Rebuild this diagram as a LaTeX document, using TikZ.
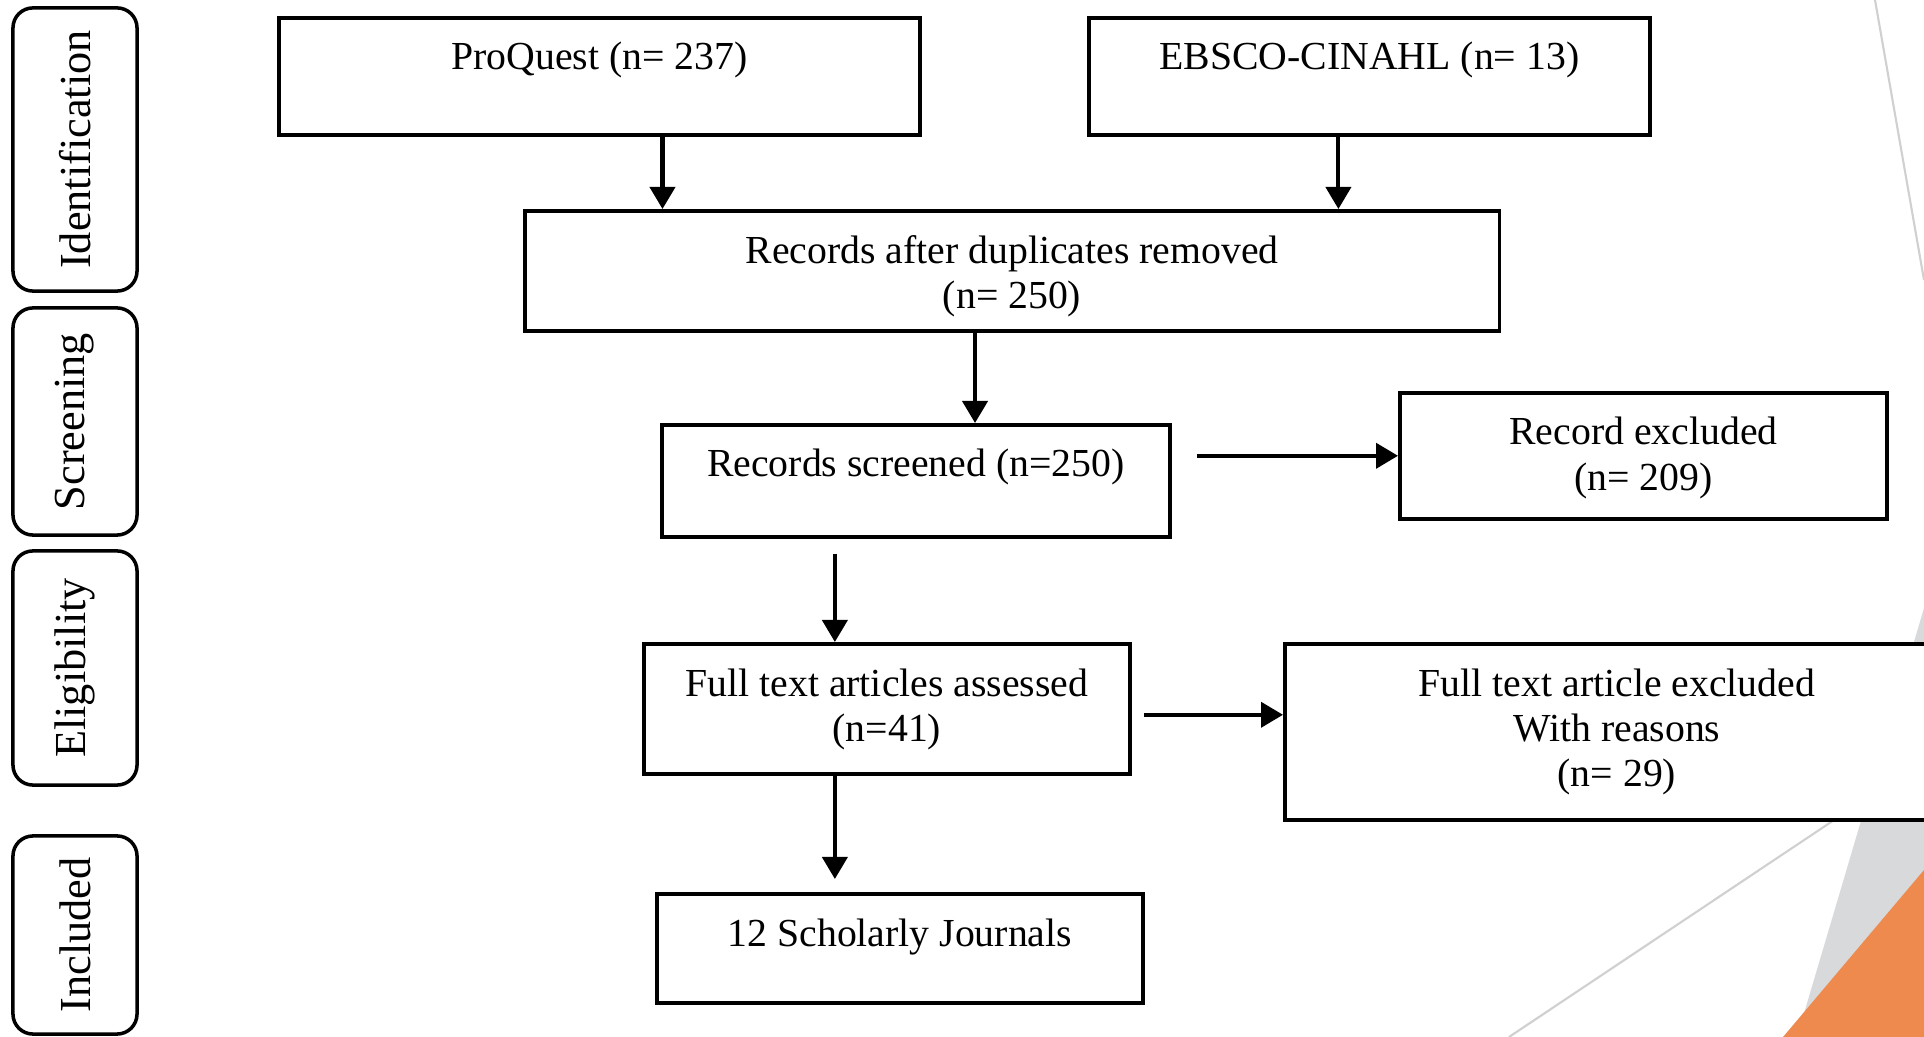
\documentclass[tikz,border=0pt]{standalone}
\usepackage{fontspec}
\setmainfont{Liberation Serif}
\usetikzlibrary{arrows.meta}

\definecolor{deckgray}{HTML}{D8D9DB}
\definecolor{deckorange}{HTML}{EF8A4E}
\definecolor{deckline}{HTML}{D0D0D0}

\tikzset{
    box/.style={draw, line width=1pt, fill=white, anchor=north west, inner sep=0pt},
    boxtext/.style={anchor=north, label distance=-0.14cm, align=center,
        font=\fontsize{11.3}{12.9}\selectfont},
    stagebox/.style={draw, line width=1pt, rounded corners=0.2cm, rotate=90,
        minimum height=1.24cm, font=\fontsize{12.6}{15}\selectfont},
    arr/.style={-{Triangle[length=0.22cm,width=0.25cm]}, line width=1.15pt},
}

\begin{document}
\begin{tikzpicture}[x=0.01cm, y=-0.01cm]

    \useasboundingbox (0,0) rectangle (1924,1037);
    \clip (0,0) rectangle (1924,1037);

    % slide corner
    \fill[deckgray] (1924,608) -- (1797,1037) -- (1924,1037) -- cycle;
    \fill[deckorange] (1783,1037) -- (1924,870) -- (1924,1037) -- cycle;
    \draw[deckline, line width=0.6pt] (1875,0) -- (1924,280);
    \draw[deckline, line width=0.6pt] (1924,760) -- (1509,1037);

    % stages
    \node[stagebox, minimum width=2.83cm] (identification) at (75,149.5) {Identification};
    \node[stagebox, minimum width=2.27cm] (screening) at (75,421.5) {Screening};
    \node[stagebox, minimum width=2.34cm] (eligibility) at (75,668) {Eligibility};
    \node[stagebox, minimum width=1.98cm] (included) at (75,935) {Included};

    % boxes
    \node
        [ box,
            minimum width=6.41cm,
            minimum height=1.17cm,
            label={[boxtext]north:ProQuest (n= 237)},
        ] (proquest) at (277,16) {};

    \node
        [ box,
            minimum width=5.61cm,
            minimum height=1.17cm,
            label={[boxtext]north:EBSCO-CINAHL (n= 13)},
        ] (ebsco) at (1087,16) {};

    \node
        [ box,
            minimum width=9.74cm,
            minimum height=1.20cm,
            label={[boxtext]north:Records after duplicates removed\\(n= 250)},
        ] (dupes) at (523,209) {};

    \node
        [ box,
            minimum width=5.08cm,
            minimum height=1.12cm,
            label={[boxtext]north:Records screened (n=250)},
        ] (screened) at (660,423) {};

    \node
        [ box,
            minimum width=4.87cm,
            minimum height=1.26cm,
            label={[boxtext]north:Record excluded\\(n= 209)},
        ] (recexcl) at (1398,391) {};

    \node
        [ box,
            minimum width=4.86cm,
            minimum height=1.30cm,
            label={[boxtext]north:Full text articles assessed\\(n=41)},
        ] (assessed) at (642,642) {};

    \node
        [ box,
            minimum width=6.64cm,
            minimum height=1.76cm,
            label={[boxtext]north:Full text article excluded\\With reasons\\(n= 29)},
        ] (ftexcl) at (1283,642) {};

    \node
        [ box,
            minimum width=4.86cm,
            minimum height=1.09cm,
            label={[boxtext]north:12 Scholarly Journals},
        ] (journals) at (655,892) {};

    % arrows
    \coordinate (scrgap) at ([yshift=-0.15cm]screened.south);
    \coordinate (jgap) at ([yshift=0.13cm]journals.north);

    \draw[arr] ([xshift=0.63cm]proquest.south) -- ([xshift=0.63cm]proquest.south |- dupes.north);
    \draw[arr] ([xshift=-0.31cm]ebsco.south) -- ([xshift=-0.31cm]ebsco.south |- dupes.north);
    \draw[arr] ([xshift=-0.37cm]dupes.south) -- ([xshift=-0.37cm]dupes.south |- screened.north);
    \draw[arr] ([xshift=0.25cm]screened.east |- recexcl.west) -- (recexcl.west);
    \draw[arr] ([xshift=-0.52cm]assessed.north |- scrgap) -- ([xshift=-0.52cm]assessed.north);
    \draw[arr] ([xshift=0.12cm,yshift=-0.06cm]assessed.east) -- ([yshift=-0.06cm]assessed.east -| ftexcl.west);
    \draw[arr] ([xshift=-0.52cm]assessed.south) -- ([xshift=-0.52cm]assessed.south |- jgap);

\end{tikzpicture}
\end{document}
